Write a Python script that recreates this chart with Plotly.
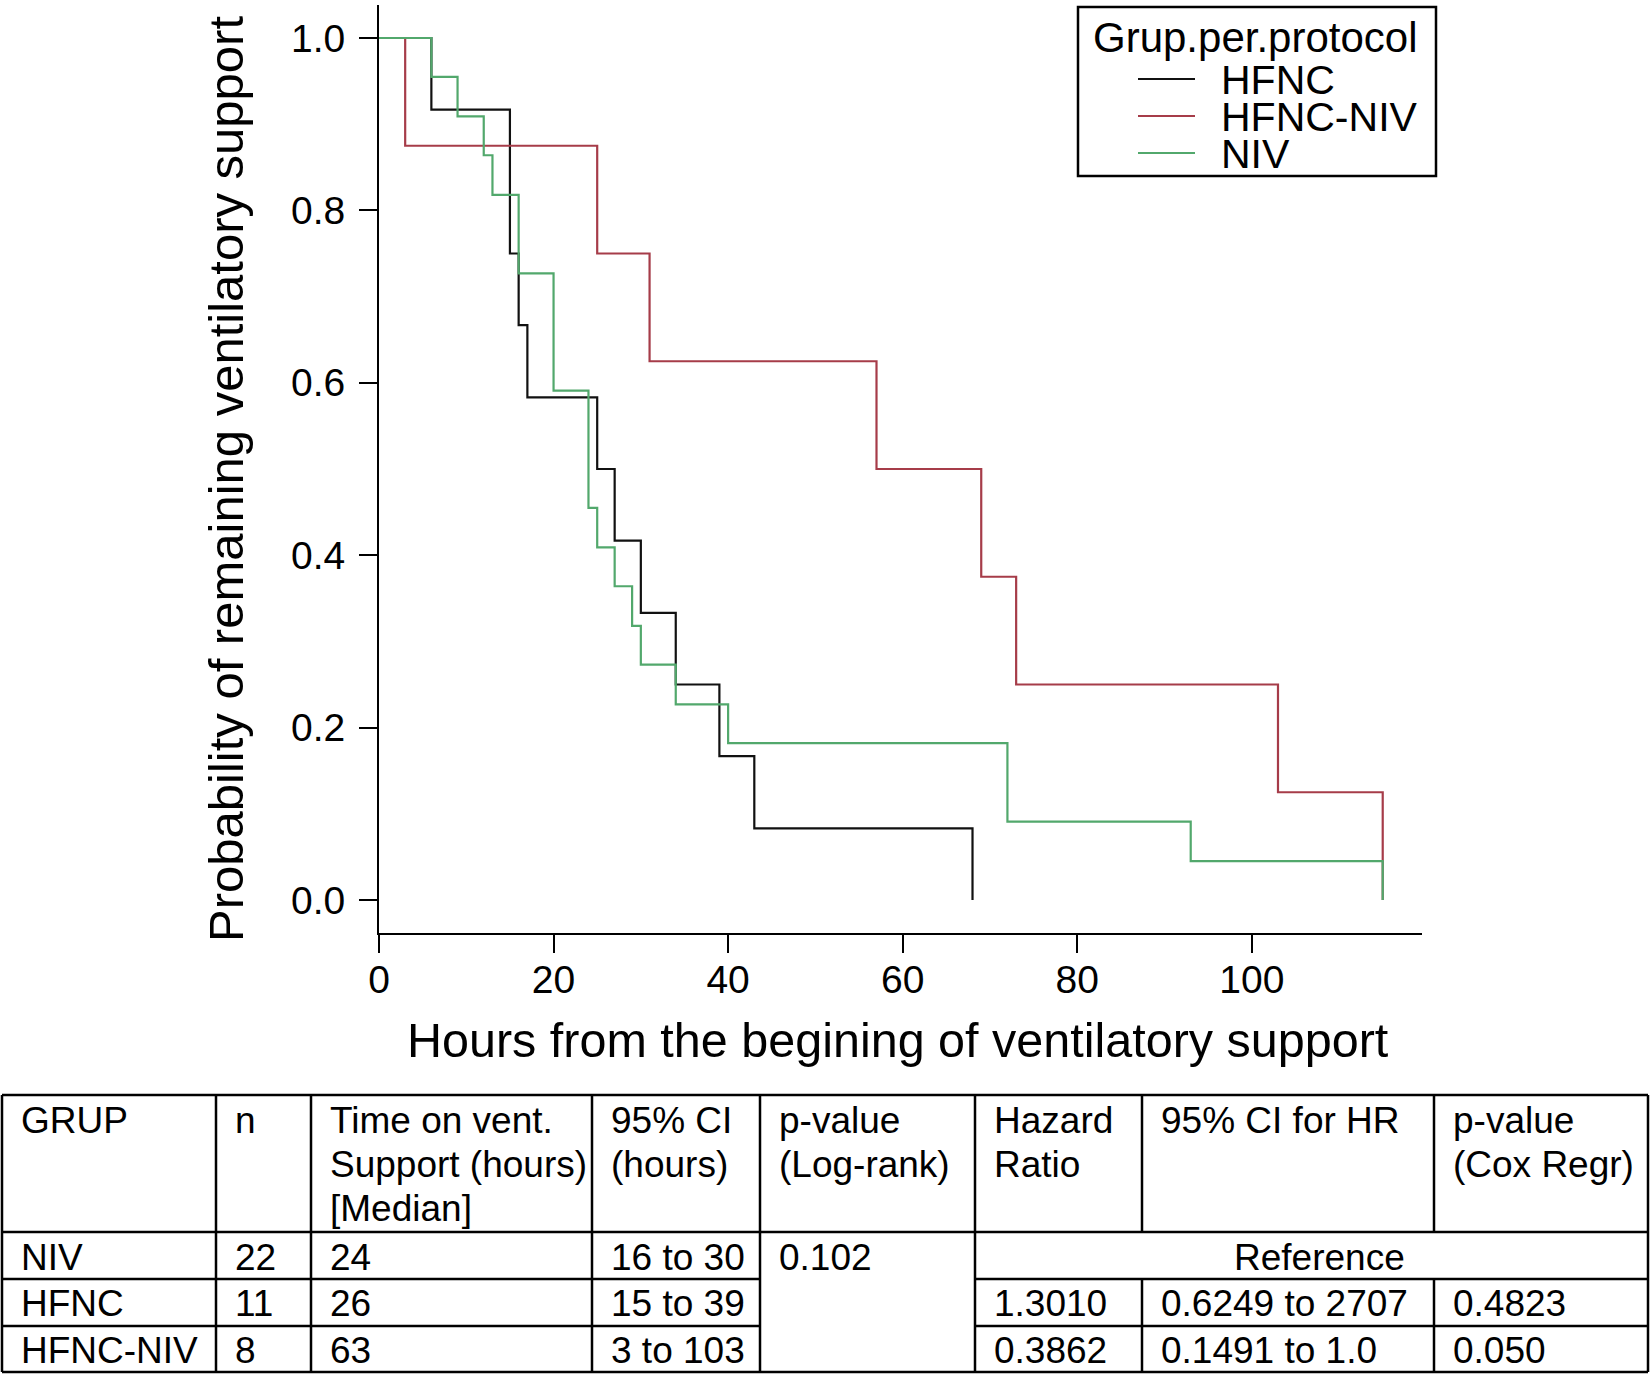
import plotly.graph_objects as go

# ── Kaplan–Meier curves ────────────────────────────────────────────────────
hfnc_hours = [0, 6, 15, 16, 17, 25, 27, 30, 34, 39, 43, 68]
hfnc_surv = [1.0, 0.917, 0.75, 0.667, 0.583, 0.5, 0.417, 0.333, 0.25, 0.167, 0.083, 0.0]

hfnc_niv_hours = [0, 3, 25, 31, 57, 69, 73, 103, 115]
hfnc_niv_surv = [1.0, 0.875, 0.75, 0.625, 0.5, 0.375, 0.25, 0.125, 0.0]

niv_hours = [0, 6, 9, 12, 13, 16, 20, 24, 25, 27, 29, 30, 34, 40, 72, 93, 115]
niv_surv = [1.0, 0.955, 0.909, 0.864, 0.818, 0.727, 0.591, 0.455, 0.409,
            0.364, 0.318, 0.273, 0.227, 0.182, 0.091, 0.045, 0.0]

x_ticks = [0, 20, 40, 60, 80, 100]
y_ticks = [0.0, 0.2, 0.4, 0.6, 0.8, 1.0]

# ── Summary table ──────────────────────────────────────────────────────────
header = [["GRUP"], ["n"], ["Time on vent.", "Support (hours)", "[Median]"],
          ["95% CI", "(hours)"], ["p-value", "(Log-rank)"], ["Hazard", "Ratio"],
          ["95% CI for HR"], ["p-value", "(Cox Regr)"]]
groups = ["NIV", "HFNC", "HFNC-NIV"]
n_pat = ["22", "11", "8"]
median_h = ["24", "26", "63"]
ci_h = ["16 to 30", "15 to 39", "3 to 103"]
logrank_p = "0.102"
reference_txt = "Reference"
hazard = ["1.3010", "0.3862"]
hazard_ci = ["0.6249 to 2707", "0.1491 to 1.0"]
cox_p = ["0.4823", "0.050"]

colors = {"HFNC": "#111111", "HFNC-NIV": "#a63c49", "NIV": "#52a86c"}
FONT = "Liberation Sans, Arial, Helvetica, sans-serif"

W, H = 1650, 1374
L, R, T, B = 379, 1422, 5, 933   # plot area in pixels


def px(x):
    return (x - L) / (R - L)


def py(y):
    return (B - y) / (B - T)


fig = go.Figure()
for name, xs, ys in [("HFNC", hfnc_hours, hfnc_surv),
                     ("HFNC-NIV", hfnc_niv_hours, hfnc_niv_surv),
                     ("NIV", niv_hours, niv_surv)]:
    fig.add_trace(go.Scatter(x=xs, y=ys, mode="lines", name=name,
                             line=dict(color=colors[name], width=2.2, shape="hv"),
                             showlegend=False))

shapes = []
annots = []

# ── Legend (drawn by hand to get R-style tight spacing) ────────────────────
shapes.append(dict(type="rect", xref="paper", yref="paper",
                   x0=px(1078), x1=px(1436), y0=py(7), y1=py(176),
                   line=dict(color="black", width=2.5), fillcolor="white"))
annots.append(dict(xref="paper", yref="paper", x=px(1091), y=py(38),
                   text="Grup.per.protocol", showarrow=False, xanchor="left",
                   yanchor="middle", font=dict(size=42, color="black", family=FONT)))
for i, name in enumerate(["HFNC", "HFNC-NIV", "NIV"]):
    yy = 79 + i * 37
    shapes.append(dict(type="line", xref="paper", yref="paper",
                       x0=px(1138), x1=px(1195), y0=py(yy), y1=py(yy),
                       line=dict(color=colors[name], width=2.2)))
    annots.append(dict(xref="paper", yref="paper", x=px(1219), y=py(yy + 1),
                       text=name, showarrow=False, xanchor="left", yanchor="middle",
                       font=dict(size=41, color="black", family=FONT)))

# ── Table grid ─────────────────────────────────────────────────────────────
col_x = [2, 216, 311, 592, 760, 975, 1142, 1434, 1648]
row_y = [1095, 1232, 1279, 1326, 1372]
LW = 2.5


def hline(y, x0, x1):
    shapes.append(dict(type="line", xref="paper", yref="paper",
                       x0=px(x0), x1=px(x1), y0=py(y), y1=py(y),
                       line=dict(color="black", width=LW)))


def vline(x, y0, y1):
    shapes.append(dict(type="line", xref="paper", yref="paper",
                       x0=px(x), x1=px(x), y0=py(y0), y1=py(y1),
                       line=dict(color="black", width=LW)))


hline(row_y[0], col_x[0], col_x[-1])
hline(row_y[1], col_x[0], col_x[-1])
for y in row_y[2:4]:
    hline(y, col_x[0], col_x[4])
    hline(y, col_x[5], col_x[-1])
hline(row_y[4], col_x[0], col_x[-1])
for x in col_x[:6] + col_x[-1:]:
    vline(x, row_y[0], row_y[-1])
for x in col_x[6:8]:
    vline(x, row_y[0], row_y[1])
    vline(x, row_y[2], row_y[-1])


def cell(text, x, y, anchor="left"):
    annots.append(dict(xref="paper", yref="paper", x=px(x), y=py(y), text=text,
                       showarrow=False, xanchor=anchor, yanchor="middle",
                       font=dict(size=37, color="black", family=FONT)))


PAD = 17
for c, lines in enumerate(header):
    for k, t in enumerate(lines):
        cell(t, col_x[c] + PAD, 1120 + k * 44)

row_mid = [1257, 1303, 1350]
for r in range(3):
    cell(groups[r], col_x[0] + PAD, row_mid[r])
    cell(n_pat[r], col_x[1] + PAD, row_mid[r])
    cell(median_h[r], col_x[2] + PAD, row_mid[r])
    cell(ci_h[r], col_x[3] + PAD, row_mid[r])
cell(logrank_p, col_x[4] + PAD, row_mid[0])
cell(reference_txt, (col_x[5] + col_x[-1]) / 2 + 8, row_mid[0], anchor="center")
for r in range(2):
    cell(hazard[r], col_x[5] + PAD, row_mid[r + 1])
    cell(hazard_ci[r], col_x[6] + PAD, row_mid[r + 1])
    cell(cox_p[r], col_x[7] + PAD, row_mid[r + 1])

# ── Axis titles ────────────────────────────────────────────────────────────
annots.append(dict(xref="paper", yref="paper", x=px(898), y=py(1040),
                   text="Hours from the begining of ventilatory support",
                   showarrow=False, xanchor="center", yanchor="middle",
                   font=dict(size=48.5, color="black", family=FONT)))
annots.append(dict(xref="paper", yref="paper", x=px(226), y=py(479),
                   text="Probability of remaining ventilatory support",
                   showarrow=False, xanchor="center", yanchor="middle", textangle=-90,
                   font=dict(size=49, color="black", family=FONT)))

fig.update_layout(
    width=W, height=H,
    margin=dict(l=L, r=W - R, t=T, b=H - B, pad=0),
    paper_bgcolor="white", plot_bgcolor="white",
    font=dict(family=FONT, color="black"),
    shapes=shapes, annotations=annots, showlegend=False,
)
fig.update_xaxes(range=[0, 119.5], tickvals=x_ticks, ticks="outside", ticklen=18,
                 tickwidth=2, tickcolor="black", showline=True, linecolor="black",
                 linewidth=2, showgrid=False, zeroline=False, ticklabelstandoff=-7,
                 tickfont=dict(size=39, family=FONT, color="black"))
fig.update_yaxes(range=[-0.0383, 1.0383], tickvals=y_ticks, tickformat=".1f",
                 ticks="outside", ticklen=18, tickwidth=2, tickcolor="black",
                 showline=True, linecolor="black", linewidth=2, showgrid=False,
                 zeroline=False, ticklabelstandoff=6,
                 tickfont=dict(size=39, family=FONT, color="black"))

# page body margin would otherwise push the figure 8px off the window
fig.write_html("out.html", config={"displayModeBar": False},
               post_script="document.body.style.margin='0';")
